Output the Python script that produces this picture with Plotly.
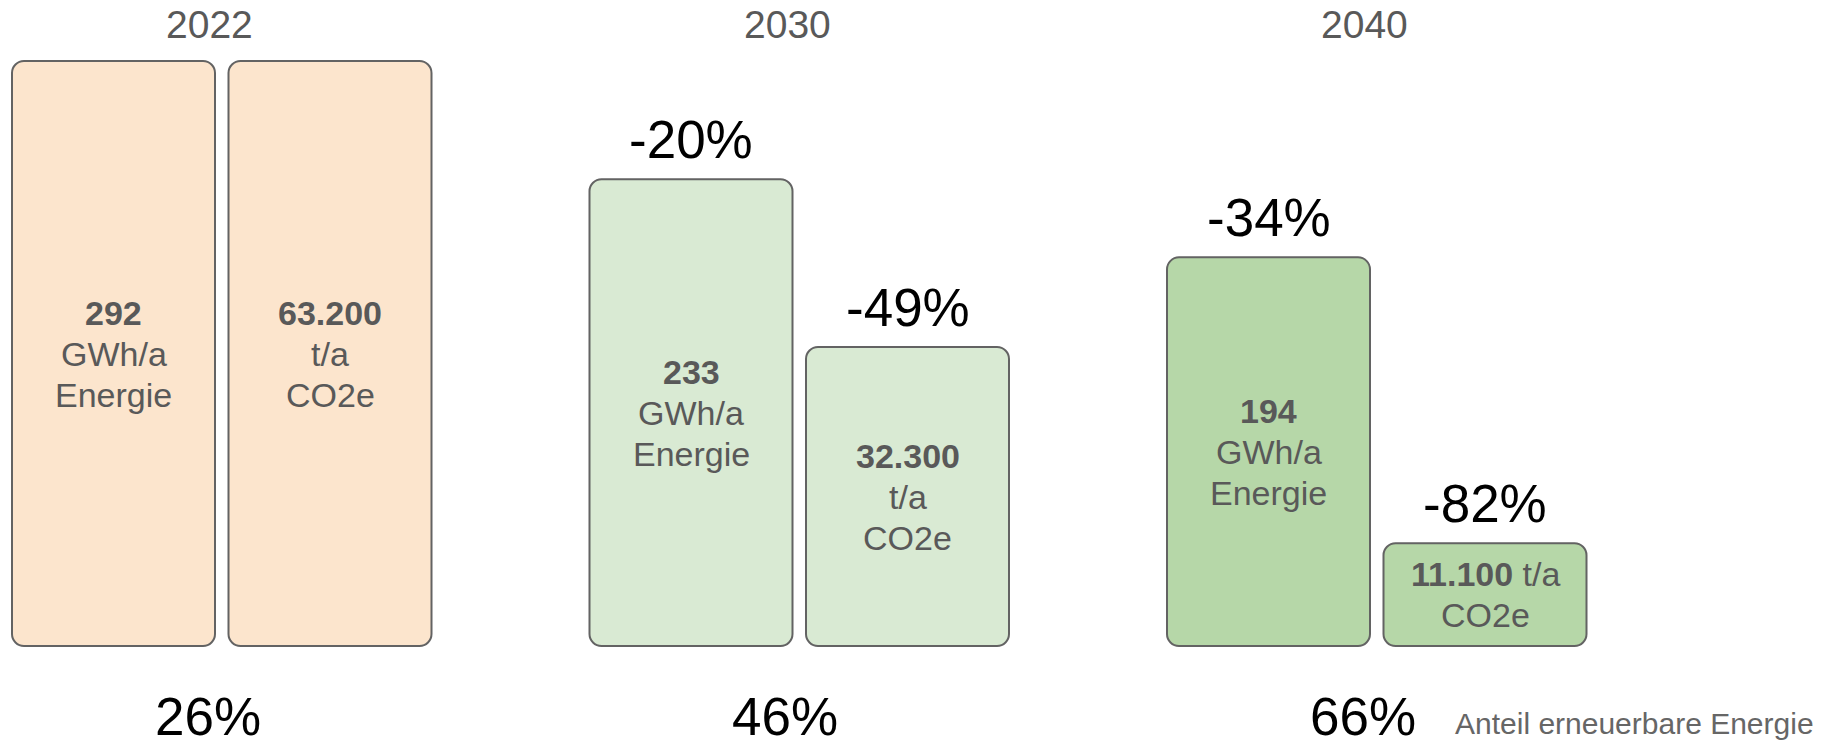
import plotly.graph_objects as go

# ---------------- data ----------------
years = ["2022", "2030", "2040"]
energy_gwh = [292, 233, 194]            # GWh/a Energie
co2_t = [63200, 32300, 11100]           # t/a CO2e
energy_change_pct = [None, -20, -34]    # vs. 2022
co2_change_pct = [None, -49, -82]       # vs. 2022
renewable_share_pct = [26, 46, 66]      # Anteil erneuerbare Energie
renewable_label = "Anteil erneuerbare Energie"
energy_unit, energy_name = "GWh/a", "Energie"
co2_unit, co2_name = "t/a", "CO2e"

# ---------------- style / layout ----------------
group_fill = ["#FCE5CD", "#D9EAD3", "#B6D7A8"]
border_col = "#636363"
text_grey = "#595959"
FONT = "Liberation Sans, Arial, Helvetica, sans-serif"

W, H = 1839, 747

PITCH = 577.5      # px between group centres
GROUP0 = 221.75    # px centre of first group
BAR_W = 203.0
BAR_OFF = 108.25
BASE_PX = 646.0    # px (from top) of bar base
TOP_PX = 61.0      # px (from top) of tallest bar
RADIUS = 12
LW = 2
LINE_GAP = 41      # px between text lines inside bars

idx = list(range(len(years)))
x_energy = [i - BAR_OFF / PITCH for i in idx]
x_co2 = [i + BAR_OFF / PITCH for i in idx]
bw = BAR_W / PITCH
x_range = [-GROUP0 / PITCH, (W - GROUP0) / PITCH]


def y_range(vals):
    ppu = (BASE_PX - TOP_PX) / max(vals)
    return [-(H - BASE_PX) / ppu, BASE_PX / ppu]


yr_e = y_range(energy_gwh)
yr_c = y_range(co2_t)


def fmt(v):
    return f"{v:,}".replace(",", ".")


fig = go.Figure()
bar_style = dict(cornerradius=RADIUS, line=dict(color=border_col, width=LW))
fig.add_trace(go.Bar(x=x_energy, y=energy_gwh, base=[0] * len(energy_gwh), width=bw,
                     name=energy_name, yaxis="y",
                     marker=dict(color=group_fill, **bar_style),
                     hovertemplate="%{y} GWh/a<extra></extra>"))
fig.add_trace(go.Bar(x=x_co2, y=co2_t, base=[0] * len(co2_t), width=bw,
                     name=co2_name, yaxis="y2",
                     marker=dict(color=group_fill, **bar_style),
                     hovertemplate="%{y} t/a<extra></extra>"))

ann = []


def add_lines(x, yval, yref, lines):
    n = len(lines)
    for k, line in enumerate(lines):
        ann.append(dict(x=x, y=yval, xref="x", yref=yref, text=line, showarrow=False,
                        yanchor="middle", yshift=((n - 1) / 2 - k) * LINE_GAP,
                        font=dict(family=FONT, size=34, color=text_grey)))


for i in idx:
    add_lines(x_energy[i], energy_gwh[i] / 2, "y",
              [f"<b>{fmt(energy_gwh[i])}</b>", energy_unit, energy_name])
    if co2_t[i] / max(co2_t) < 0.25:
        lines = [f"<b>{fmt(co2_t[i])}</b> {co2_unit}", co2_name]
    else:
        lines = [f"<b>{fmt(co2_t[i])}</b>", co2_unit, co2_name]
    add_lines(x_co2[i], co2_t[i] / 2, "y2", lines)

    if energy_change_pct[i] is not None:
        ann.append(dict(x=x_energy[i], y=energy_gwh[i], xref="x", yref="y",
                        text=f"{energy_change_pct[i]}%", showarrow=False, yshift=40,
                        yanchor="middle", font=dict(family=FONT, size=53, color="#000000")))
    if co2_change_pct[i] is not None:
        ann.append(dict(x=x_co2[i], y=co2_t[i], xref="x", yref="y2",
                        text=f"{co2_change_pct[i]}%", showarrow=False, yshift=40,
                        yanchor="middle", font=dict(family=FONT, size=53, color="#000000")))
    ann.append(dict(x=i, y=1 - 25 / H, xref="x", yref="paper", text=years[i],
                    showarrow=False, xshift=-12, yanchor="middle",
                    font=dict(family=FONT, size=39, color=text_grey)))
    ann.append(dict(x=i, y=1 - 716 / H, xref="x", yref="paper",
                    text=f"{renewable_share_pct[i]}%", showarrow=False, xshift=-14,
                    yanchor="middle", font=dict(family=FONT, size=53, color="#000000")))

ann.append(dict(x=1453 / W, y=1 - 723 / H, xref="paper", yref="paper",
                text=renewable_label, showarrow=False, xanchor="left", yanchor="middle",
                font=dict(family=FONT, size=30, color="#666666")))

fig.update_layout(
    width=W, height=H,
    margin=dict(l=0, r=0, t=0, b=0),
    paper_bgcolor="white", plot_bgcolor="white",
    barmode="overlay",
    showlegend=False,
    xaxis=dict(range=x_range, visible=False, fixedrange=True),
    yaxis=dict(range=yr_e, visible=False, fixedrange=True),
    yaxis2=dict(range=yr_c, visible=False, overlaying="y", fixedrange=True),
    annotations=ann,
    font=dict(family=FONT),
)

fig.write_html("out.html", config={"displayModeBar": False},
               post_script="document.body.style.margin='0';document.body.style.overflow='hidden';")
